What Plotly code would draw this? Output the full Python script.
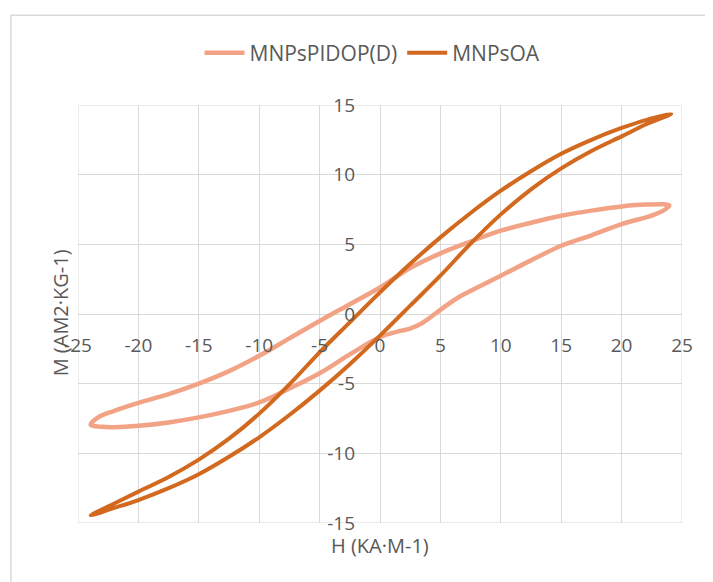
import plotly.graph_objects as go

# MNPsPIDOP(D) hysteresis loop (H in kA/m, M in Am2/kg)
pidop_h = [23.95, 22.0, 20.0, 17.5, 15.0, 12.5, 10.0, 7.5, 5.0, 2.5, 0.0, -2.5, -5.0, -7.5, -10.0,
           -12.5, -15.0, -17.5, -20.0, -22.0, -23.3, -23.95,
           -23.0, -22.0, -20.0, -17.5, -15.0, -12.5, -10.0, -7.5, -5.0, -2.5, 0.0, 1.5, 2.5,
           3.5, 5.0, 6.5, 7.6, 10.0, 12.5, 15.0, 17.5, 20.0, 22.6, 23.6, 23.95]
pidop_m = [7.8, 7.85, 7.72, 7.42, 7.05, 6.55, 5.98, 5.2, 4.35, 3.3, 1.9, 0.7, -0.5, -1.75, -3.0,
           -4.1, -5.0, -5.75, -6.38, -6.95, -7.4, -7.95,
           -8.1, -8.12, -8.02, -7.78, -7.42, -6.95, -6.35, -5.35, -4.25, -2.9, -1.65, -1.25, -1.05,
           -0.65, 0.3, 1.2, 1.7, 2.75, 3.85, 4.9, 5.65, 6.45, 7.1, 7.5, 7.8]

# MNPsOA hysteresis loop
oa_h = [24.1, 22.0, 20.0, 17.5, 15.0, 12.5, 10.0, 7.5, 5.0, 2.5, 0.0, -2.5, -5.0, -7.5, -10.0,
        -12.5, -15.0, -17.5, -20.0, -22.0, -23.95,
        -22.0, -20.0, -17.5, -15.0, -12.5, -10.0, -7.5, -5.0, -2.5, 0.0, 2.5, 5.0, 7.5,
        10.0, 12.5, 15.0, 17.5, 20.0, 22.0, 24.1]
oa_m = [14.36, 13.92, 13.35, 12.5, 11.5, 10.25, 8.85, 7.25, 5.5, 3.6, 1.55, -0.6, -2.75, -5.05, -7.15,
        -8.95, -10.45, -11.7, -12.75, -13.6, -14.45,
        -13.92, -13.35, -12.5, -11.5, -10.25, -8.85, -7.25, -5.5, -3.6, -1.55, 0.6, 2.75, 5.05,
        7.15, 8.95, 10.45, 11.7, 12.75, 13.6, 14.36]

series_names = ["MNPsPIDOP(D)", "MNPsOA"]
x_ticks = [-25, -20, -15, -10, -5, 0, 5, 10, 15, 20, 25]
y_ticks = [-15, -10, -5, 0, 5, 10, 15]
x_title = "H (KA·M-1)"
y_title = "M (AM2·KG-1)"

FONT = "Open Sans"
GRAY = "#595959"
GRID = "#D9D9D9"

fig = go.Figure()
fig.add_trace(go.Scatter(x=pidop_h, y=pidop_m, mode="lines", name=series_names[0],
                         line=dict(color="#F2A385", width=4.5, shape="spline", smoothing=1.0)))
fig.add_trace(go.Scatter(x=oa_h, y=oa_m, mode="lines", name=series_names[1],
                         line=dict(color="#D2691F", width=4, shape="spline", smoothing=1.0)))

fig.update_layout(
    width=705, height=574,
    margin=dict(l=70, r=31, t=97, b=59),
    paper_bgcolor="white", plot_bgcolor="white",
    font=dict(family=FONT, color=GRAY, size=19),
    showlegend=True,
    legend=dict(orientation="h", x=0.4876, xanchor="center", y=1.124, yanchor="middle",
                font=dict(size=21, color=GRAY), bgcolor="rgba(0,0,0,0)", itemwidth=40),
    xaxis=dict(range=[-25, 25], tickvals=x_ticks, ticktext=[str(v) for v in x_ticks],
               showgrid=True, gridcolor=GRID, gridwidth=1, zeroline=True, zerolinecolor=GRID,
               zerolinewidth=1, showline=False, anchor="free", position=0.5,
               ticks="", ticklabelstandoff=18, tickfont=dict(size=19, color=GRAY)),
    yaxis=dict(range=[-15, 15], tickvals=y_ticks, ticktext=[str(v) for v in y_ticks],
               showgrid=True, gridcolor=GRID, gridwidth=1, zeroline=True, zerolinecolor=GRID,
               zerolinewidth=1, showline=False, anchor="free", position=0.5,
               ticks="", ticklabelstandoff=25, tickfont=dict(size=19, color=GRAY)),
    shapes=[
        dict(type="rect", xref="x", yref="y", x0=-25, x1=25, y0=-15, y1=15,
             line=dict(color=GRID, width=1), layer="below"),
        dict(type="rect", xref="paper", yref="paper", x0=-0.111, x1=1.2, y0=-0.5, y1=1.215,
             line=dict(color=GRID, width=1.5), layer="below"),
    ],
    annotations=[
        dict(text=x_title, xref="paper", yref="paper", x=0.5, y=-0.055, xanchor="center",
             yanchor="middle", showarrow=False, font=dict(size=20, color=GRAY)),
        dict(text=y_title, xref="paper", yref="paper", x=-0.0295, y=0.502, xanchor="center",
             yanchor="middle", textangle=-90, showarrow=False, font=dict(size=20, color=GRAY)),
    ],
)

fig.write_html("out.html")
